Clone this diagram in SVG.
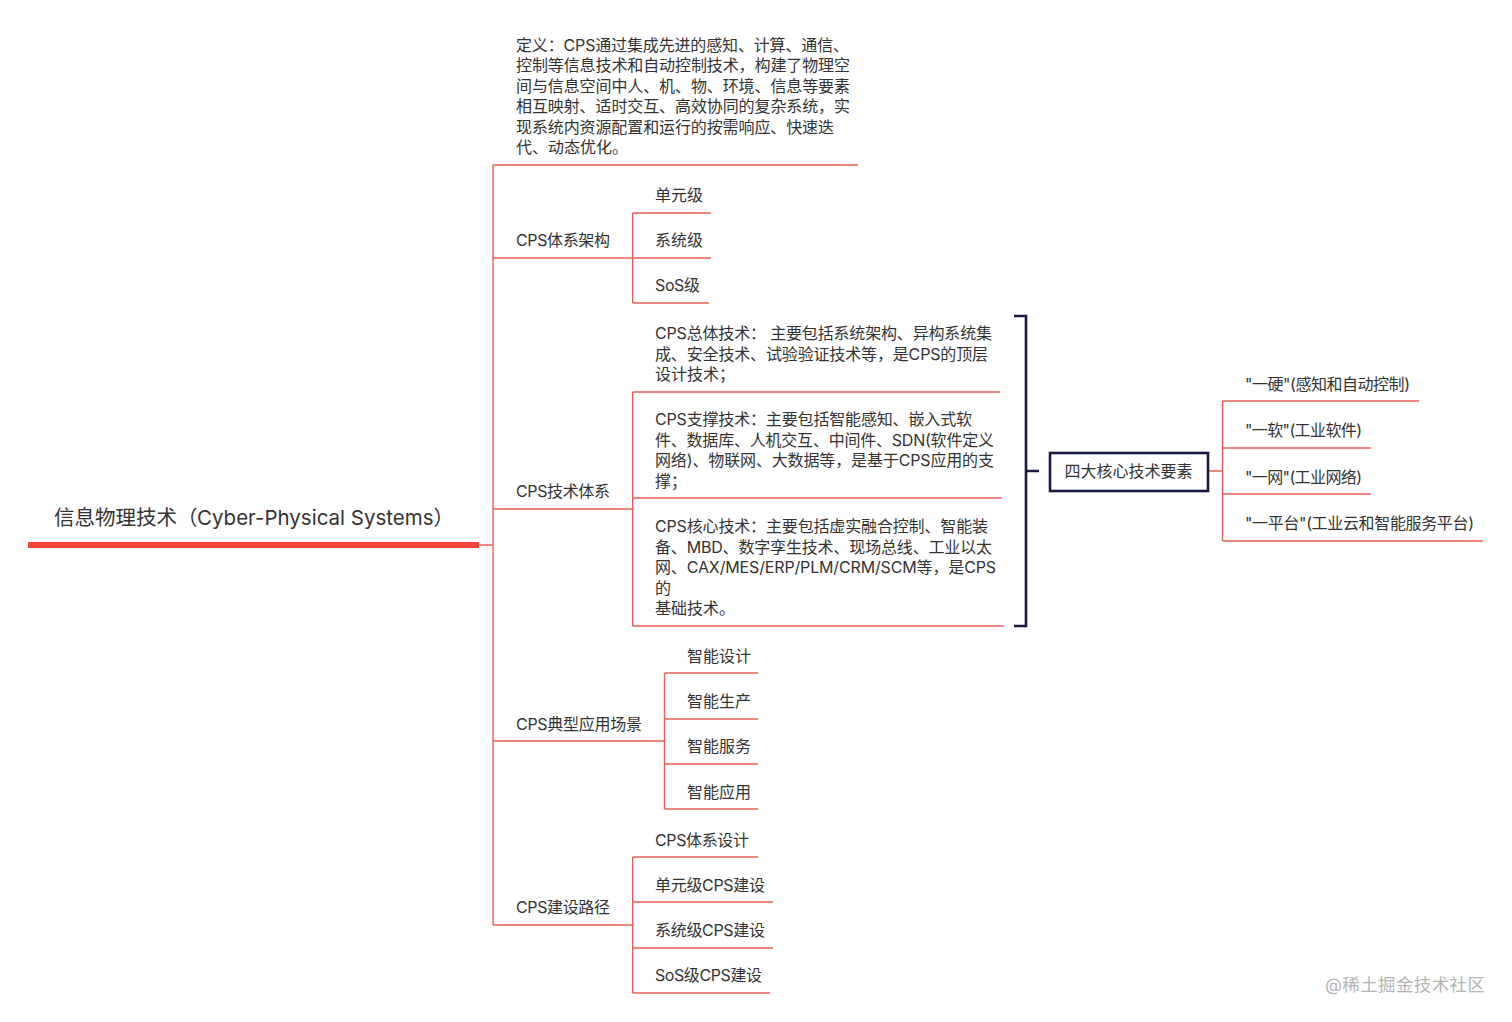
<svg xmlns="http://www.w3.org/2000/svg" width="1512" height="1022" viewBox="0 0 1512 1022">
<style>
text{font-family:Inter,"Noto Sans CJK SC","Noto Sans",sans-serif;font-size:16px;fill:#333;font-weight:400}
.c{fill:none;stroke:#ec5f56;stroke-width:1.4}
.n{fill:none;stroke:#161a40;stroke-width:2.6}
.t{font-size:20.5px}
.w{fill:#b4b4b4;font-size:17.5px}
</style>
<rect width="1512" height="1022" fill="#fff"/>
<g id="connectors">
<path class="c" d="M479 545H493M493 165V925M493 165H858M493 258H633M493 509H633M493 741H664.5M493 925H633"/>
<path class="c" d="M632.6 213V303M632.6 213H711M632.6 258H711M632.6 303H709"/>
<path class="c" d="M632.6 392V626M632.6 392H1000M632.6 498H1002M632.6 626H1004"/>
<path class="c" d="M664.5 673V809M664.5 673H758M664.5 719H758M664.5 764H758M664.5 809H758"/>
<path class="c" d="M632.6 857V993M632.6 857H758M632.6 902H773M632.6 948H773M632.6 993H770"/>
<path class="c" d="M1208 471H1222.5M1222.5 401V541M1222.5 401H1419M1222.5 448H1371M1222.5 494H1371M1222.5 541H1483"/>
<path class="n" d="M1014 316H1026V626H1014M1026 471H1039"/>
</g>
<g id="root"><rect x="28" y="542" width="451" height="6" fill="#f4433c"/><text class="t" x="54" y="524.500">信息物理技术（<tspan x="197">Cyber-Physical Systems）</tspan></text></g>
<g id="definition"><text x="516" y="51" textLength="333">定义：CPS通过集成先进的感知、计算、通信、</text><text x="516" y="71" textLength="334">控制等信息技术和自动控制技术，构建了物理空</text><text x="516" y="92" textLength="334">间与信息空间中人、机、物、环境、信息等要素</text><text x="516" y="112" textLength="334">相互映射、适时交互、高效协同的复杂系统，实</text><text x="516" y="133" textLength="318">现系统内资源配置和运行的按需响应、快速迭</text><text x="516" y="153">代、动态优化。</text></g>
<g id="arch"><text x="516" y="246" textLength="94">CPS体系架构</text></g>
<g id="arch-1"><text x="655" y="201">单元级</text></g>
<g id="arch-2"><text x="655" y="246">系统级</text></g>
<g id="arch-3"><text x="655" y="291" textLength="45">SoS级</text></g>
<g id="tech"><text x="516" y="497" textLength="94">CPS技术体系</text></g>
<g id="tech-1"><text x="655" y="339" textLength="337">CPS总体技术： 主要包括系统架构、异构系统集</text><text x="655" y="360" textLength="333">成、安全技术、试验验证技术等，是CPS的顶层</text><text x="655" y="380">设计技术；</text></g>
<g id="tech-2"><text x="655" y="425" textLength="317">CPS支撑技术：主要包括智能感知、嵌入式软</text><text x="655" y="446" textLength="339">件、数据库、人机交互、中间件、SDN(软件定义</text><text x="655" y="466" textLength="339">网络)、物联网、大数据等，是基于CPS应用的支</text><text x="655" y="487">撑；</text></g>
<g id="tech-3"><text x="655" y="532" textLength="333">CPS核心技术：主要包括虚实融合控制、智能装</text><text x="655" y="553" textLength="337">备、MBD、数字孪生技术、现场总线、工业以太</text><text x="655" y="573" textLength="341">网、CAX/MES/ERP/PLM/CRM/SCM等，是CPS</text><text x="655" y="594">的</text><text x="655" y="614">基础技术。</text></g>
<g id="scene"><text x="516" y="730" textLength="126">CPS典型应用场景</text></g>
<g id="scene-1"><text x="687" y="662">智能设计</text></g>
<g id="scene-2"><text x="687" y="707">智能生产</text></g>
<g id="scene-3"><text x="687" y="752">智能服务</text></g>
<g id="scene-4"><text x="687" y="798">智能应用</text></g>
<g id="path"><text x="516" y="913" textLength="94">CPS建设路径</text></g>
<g id="path-1"><text x="655" y="846" textLength="94">CPS体系设计</text></g>
<g id="path-2"><text x="655" y="891" textLength="110">单元级CPS建设</text></g>
<g id="path-3"><text x="655" y="936" textLength="110">系统级CPS建设</text></g>
<g id="path-4"><text x="655" y="981" textLength="107">SoS级CPS建设</text></g>
<g id="core"><rect class="n" x="1050" y="453" width="158" height="38"/><text x="1064.500" y="477">四大核心技术要素</text></g>
<g id="core-1"><text x="1245" y="390" textLength="165">"一硬"(感知和自动控制)</text></g>
<g id="core-2"><text x="1245" y="436" textLength="117">"一软"(工业软件)</text></g>
<g id="core-3"><text x="1245" y="483" textLength="117">"一网"(工业网络)</text></g>
<g id="core-4"><text x="1245" y="529" textLength="229">"一平台"(工业云和智能服务平台)</text></g>
<text class="w" x="1325" y="991" textLength="160">@稀土掘金技术社区</text>
</svg>
